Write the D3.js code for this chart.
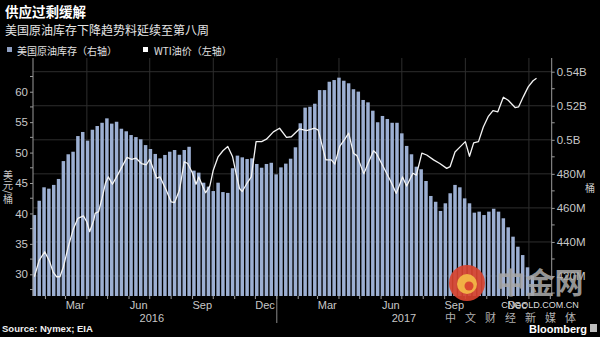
<!DOCTYPE html>
<html>
<head>
<meta charset="utf-8">
<script src="https://cdn.jsdelivr.net/npm/d3@7/dist/d3.min.js"></script>
<style>
  html, body { margin: 0; padding: 0; background: #000; }
  svg { display: block; }
  text { font-family: "Liberation Sans", Arial, "Noto Sans CJK SC", sans-serif; }
  .cjk { font-family: "Noto Sans CJK SC", "Liberation Sans", sans-serif; }
</style>
</head>
<body>
<svg id="chart" width="600" height="337"></svg>
<script>
// Weekly US crude inventories (millions of barrels), first week ending 2016-01-16
const inventoryStart = "2016-01-16";
const inventory = [
  455.8, 464.2, 472.1, 471.3, 473.5, 477.0, 487.5, 491.5, 493.0, 502.2,
  504.6, 499.5, 505.9, 508.1, 510.0, 512.6, 509.5, 510.6, 506.5, 505.0,
  502.8, 501.6, 500.3, 496.9, 494.6, 491.7, 489.1, 491.1, 493.0, 494.0,
  491.2, 494.0, 495.9, 481.9, 480.7, 474.8, 472.5, 469.9, 474.8, 469.3,
  468.8, 483.3, 490.7, 489.7, 488.7, 489.1, 485.8, 483.6, 485.8, 486.5,
  479.7, 483.8, 486.0, 488.9, 495.6, 509.7, 518.9, 519.4, 521.2, 529.2,
  529.2, 534.1, 535.1, 536.5, 534.7, 533.2, 529.7, 528.3, 523.4, 522.0,
  517.1, 510.3, 514.0, 512.2, 510.0, 510.0, 503.8, 496.4, 491.5, 484.2,
  482.7, 475.8, 467.0, 463.6, 458.2, 462.7, 468.6, 473.5, 472.1, 465.6,
  462.7, 457.2, 457.8, 455.8, 457.8, 459.5, 457.8, 453.9, 448.6, 443.1,
  437.2, 432.3, 425.1, 420.0
];

// WTI crude price (USD per barrel)
const wtiDates = [
  "2016-01-16","2016-01-23","2016-01-31","2016-02-07","2016-02-12","2016-02-17","2016-02-22","2016-02-27",
  "2016-03-05","2016-03-12","2016-03-19","2016-03-27","2016-04-01","2016-04-05","2016-04-11","2016-04-13",
  "2016-04-18","2016-04-23","2016-04-28","2016-05-02","2016-05-08","2016-05-14","2016-05-22","2016-05-29",
  "2016-06-05","2016-06-11","2016-06-19","2016-06-26","2016-07-01","2016-07-11","2016-07-16","2016-07-25",
  "2016-08-01","2016-08-06","2016-08-13","2016-08-20","2016-08-25","2016-09-01","2016-09-06","2016-09-10",
  "2016-09-16","2016-09-20","2016-09-26","2016-10-01","2016-10-08","2016-10-15","2016-10-22","2016-10-29",
  "2016-11-03","2016-11-08","2016-11-12","2016-11-18","2016-11-25","2016-12-02","2016-12-10","2016-12-17",
  "2016-12-27","2017-01-05","2017-01-15","2017-01-22","2017-02-03","2017-02-13","2017-02-25","2017-03-02",
  "2017-03-13","2017-03-21","2017-03-26","2017-04-02","2017-04-10","2017-04-15","2017-04-22","2017-04-27",
  "2017-05-07","2017-05-13","2017-05-21","2017-05-25","2017-06-04","2017-06-14","2017-06-23","2017-07-02",
  "2017-07-08","2017-07-17","2017-07-22","2017-07-30","2017-08-06","2017-08-16","2017-08-25","2017-09-04",
  "2017-09-09","2017-09-16","2017-09-23","2017-10-01","2017-10-07","2017-10-13","2017-10-20","2017-10-27",
  "2017-11-03","2017-11-10","2017-11-17","2017-11-25","2017-12-02","2017-12-12","2017-12-17","2017-12-24",
  "2017-12-31","2018-01-07","2018-01-12"
];
const wtiValues = [
  29.6, 32.3, 33.7, 32.1, 30.4, 29.6, 29.6, 31.2,
  34.5, 37.3, 39.2, 39.6, 38.6, 37.0, 38.9, 40.0,
  40.3, 42.5, 45.0, 46.0, 44.8, 46.0, 47.7, 49.2,
  48.9, 49.1, 48.2, 48.0, 48.9, 45.8, 46.0, 43.8,
  41.9, 41.8, 43.8, 48.5, 48.2, 46.6, 44.8, 46.0,
  44.4, 43.4, 44.5, 47.1, 49.3, 50.3, 51.0, 49.3,
  46.6, 44.1, 43.6, 44.8, 46.0, 51.8, 51.8, 52.2,
  53.4, 54.0, 52.5, 52.6, 53.9, 53.6, 54.0, 53.7,
  48.8, 48.8, 48.1, 51.0, 52.3, 53.2, 49.9, 49.5,
  46.5, 48.2, 50.3, 49.9, 47.7, 45.5, 43.3, 46.0,
  44.5, 46.6, 46.3, 49.9, 49.6, 48.8, 48.2, 47.4,
  47.7, 50.1, 50.9, 51.8, 49.4, 51.6, 51.8, 54.2,
  55.9, 56.9, 56.7, 59.1, 58.6, 57.4, 57.5, 59.2,
  60.8, 61.8, 62.2
];

// Axis ticks
const leftTicks = [30, 35, 40, 45, 50, 55, 60];
const leftMinorTicks = [27.5, 32.5, 37.5, 42.5, 47.5, 52.5, 57.5, 62.5];
const rightTicks = [420, 440, 460, 480, 500, 520, 540];
const rightTickLabels = ["420M", "440M", "460M", "480M", "0.5B", "0.52B", "0.54B"];
const rightMinorTicks = [410, 430, 450, 470, 490, 510, 530];
const monthLabels = ["Mar", "Jun", "Sep", "Dec", "Mar", "Jun", "Sep", "Dec"];
const monthLabelDates = ["2016-03-15","2016-06-15","2016-09-15","2016-12-15","2017-03-15","2017-06-15","2017-09-15","2017-12-15"];
const quarterGridDates = ["2016-04-01","2016-07-01","2016-10-01","2017-01-01","2017-04-01","2017-07-01","2017-10-01","2018-01-01"];
const yearLabels = ["2016", "2017"];
const yearLabelDates = ["2016-07-04", "2017-07-04"];
const yearBreak = "2017-01-01";
const xDomain = ["2016-01-14", "2018-02-03"];

const parse = d3.utcParse("%Y-%m-%d");
const svg = d3.select("#chart");

const plot = { left: 33, right: 551.7, top: 58, bottom: 296 };

const x = d3.scaleUtc().domain(xDomain.map(parse)).range([plot.left, plot.right]);
const yL = d3.scaleLinear().domain([26.435, 65.54]).range([plot.bottom, plot.top]);
const yR = d3.scaleLinear().domain([408.25, 548.05]).range([plot.bottom, plot.top]);

const gridColor = "#2e2e2e";
const labelColor = "#c8c8c8";

// Grid
const grid = svg.append("g");
grid.selectAll("line.h").data(rightTicks).join("line")
  .attr("x1", plot.left).attr("x2", plot.right)
  .attr("y1", d => yR(d)).attr("y2", d => yR(d))
  .attr("stroke", gridColor).attr("stroke-width", 1);
grid.selectAll("line.v").data(quarterGridDates).join("line")
  .attr("x1", d => x(parse(d))).attr("x2", d => x(parse(d)))
  .attr("y1", plot.top).attr("y2", plot.bottom)
  .attr("stroke", gridColor).attr("stroke-width", 1);

// Inventory bars
const startDate = parse(inventoryStart);
const weekPx = x(d3.utcDay.offset(startDate, 7)) - x(startDate);
const barW = weekPx * 0.72;
svg.append("g").selectAll("rect").data(inventory).join("rect")
  .attr("x", (d, i) => x(d3.utcDay.offset(startDate, 7 * i)) - barW / 2)
  .attr("y", d => yR(d))
  .attr("width", barW)
  .attr("height", d => plot.bottom - yR(d))
  .attr("fill", "#9cafd2");

// WTI line
const wti = wtiDates.map((d, i) => ({ date: parse(d), value: wtiValues[i] }));
svg.append("path").datum(wti)
  .attr("fill", "none")
  .attr("stroke", "#f4f4f4")
  .attr("stroke-width", 1.3)
  .attr("stroke-linejoin", "round")
  .attr("d", d3.line().x(d => x(d.date)).y(d => yL(d.value)));

// Left axis
const leftAxis = svg.append("g").attr("transform", `translate(${plot.left},0)`)
  .call(d3.axisLeft(yL).tickValues(leftTicks).tickSize(3).tickPadding(2));
leftAxis.append("g").selectAll("line").data(leftMinorTicks).join("line")
  .attr("x1", -3).attr("x2", 0).attr("y1", d => yL(d)).attr("y2", d => yL(d));
leftAxis.select(".domain").attr("d", `M0,${plot.top}V${plot.bottom}`);

// Right axis
const rightAxis = svg.append("g").attr("transform", `translate(${plot.right},0)`)
  .call(d3.axisRight(yR).tickValues(rightTicks).tickFormat((d, i) => rightTickLabels[i]).tickSize(3).tickPadding(2));
rightAxis.append("g").selectAll("line").data(rightMinorTicks).join("line")
  .attr("x1", 0).attr("x2", 3).attr("y1", d => yR(d)).attr("y2", d => yR(d));
rightAxis.select(".domain").attr("d", `M0,${plot.top}V${plot.bottom}`);

[leftAxis, rightAxis].forEach(g => {
  g.selectAll(".domain").attr("stroke", "#9a9a9a");
  g.selectAll("line").attr("stroke", "#9a9a9a");
  g.selectAll("text").attr("fill", labelColor).attr("font-size", 11.5)
    .attr("font-family", "'Liberation Sans', Arial, sans-serif");
});

// Bottom axis: monthly ticks, month and year labels
const months = d3.utcMonth.range(parse(xDomain[0]), parse(xDomain[1]));
svg.append("g").selectAll("line").data(months).join("line")
  .attr("x1", d => x(d)).attr("x2", d => x(d))
  .attr("y1", plot.bottom).attr("y2", plot.bottom + 3)
  .attr("stroke", "#9a9a9a");
svg.append("g").selectAll("text").data(monthLabels).join("text")
  .attr("x", (d, i) => x(parse(monthLabelDates[i])))
  .attr("y", 309)
  .attr("text-anchor", "middle")
  .attr("fill", labelColor).attr("font-size", 11)
  .text(d => d);
svg.append("g").selectAll("text").data(yearLabels).join("text")
  .attr("x", (d, i) => x(parse(yearLabelDates[i])))
  .attr("y", 322)
  .attr("text-anchor", "middle")
  .attr("fill", labelColor).attr("font-size", 11)
  .text(d => d);
svg.append("line")
  .attr("x1", x(parse(yearBreak))).attr("x2", x(parse(yearBreak)))
  .attr("y1", plot.bottom).attr("y2", 323)
  .attr("stroke", "#8a8a8a");

// Axis titles (left one set vertically)
svg.append("text").attr("class", "cjk")
  .attr("x", 8).attr("y", 170)
  .attr("writing-mode", "vertical-rl")
  .attr("fill", labelColor).attr("font-size", 10)
  .text("美元/桶");
svg.append("text").attr("class", "cjk")
  .attr("x", 590).attr("y", 192)
  .attr("text-anchor", "middle")
  .attr("fill", labelColor).attr("font-size", 10)
  .text("桶");

// Titles
svg.append("text").attr("class", "cjk")
  .attr("x", 5).attr("y", 17)
  .attr("fill", "#ffffff").attr("font-size", 13.5).attr("font-weight", "bold")
  .text("供应过剩缓解");
svg.append("text").attr("class", "cjk")
  .attr("x", 5).attr("y", 35)
  .attr("fill", "#e6e6e6").attr("font-size", 12)
  .text("美国原油库存下降趋势料延续至第八周");

// Legend
svg.append("rect").attr("x", 7).attr("y", 47).attr("width", 5).attr("height", 5).attr("fill", "#8e9fc2");
svg.append("text").attr("class", "cjk").attr("x", 17).attr("y", 55)
  .attr("fill", "#e0e0e0").attr("font-size", 10).text("美国原油库存（右轴）");
svg.append("rect").attr("x", 143).attr("y", 47).attr("width", 5).attr("height", 5).attr("fill", "#ffffff");
svg.append("text").attr("class", "cjk").attr("x", 154).attr("y", 55)
  .attr("fill", "#e0e0e0").attr("font-size", 10).text("WTI油价（左轴）");

// Source and brand
svg.append("text").attr("x", 2).attr("y", 332)
  .attr("fill", "#f0f0f0").attr("font-size", 9.5).attr("font-weight", "bold")
  .attr("font-family", "'DejaVu Sans', sans-serif")
  .text("Source: Nymex; EIA");
svg.append("text").attr("x", 587).attr("y", 333)
  .attr("text-anchor", "end")
  .attr("fill", "#ffffff").attr("font-size", 11).attr("font-weight", "bold")
  .text("Bloomberg");
svg.append("rect").attr("x", 590).attr("y", 324).attr("width", 7).attr("height", 8)
  .attr("fill", "#bdbdbd");

// Site watermark
const wm = svg.append("g");
wm.append("circle").attr("cx", 467).attr("cy", 283).attr("r", 18)
  .attr("fill", "#d8432f").attr("opacity", 0.92);
wm.append("circle").attr("cx", 467).attr("cy", 284).attr("r", 10)
  .attr("fill", "#f2b646").attr("opacity", 0.95);
wm.append("circle").attr("cx", 469).attr("cy", 286).attr("r", 4.5)
  .attr("fill", "#d8432f").attr("opacity", 0.95);
wm.append("text").attr("class", "cjk").attr("x", 540).attr("y", 294)
  .attr("text-anchor", "middle")
  .attr("fill", "#a8a8a8").attr("opacity", 0.88)
  .attr("font-size", 29).attr("font-weight", "bold")
  .text("中金网");
wm.append("text").attr("x", 540).attr("y", 308)
  .attr("text-anchor", "middle")
  .attr("fill", "#dcdcdc").attr("font-size", 9)
  .text("CNGOLD.COM.CN");
wm.append("text").attr("class", "cjk").attr("x", 515).attr("y", 322)
  .attr("text-anchor", "middle")
  .attr("fill", "#b0b0b0").attr("font-size", 11)
  .attr("letter-spacing", 9)
  .text("中文财经新媒体");
</script>
</body>
</html>
